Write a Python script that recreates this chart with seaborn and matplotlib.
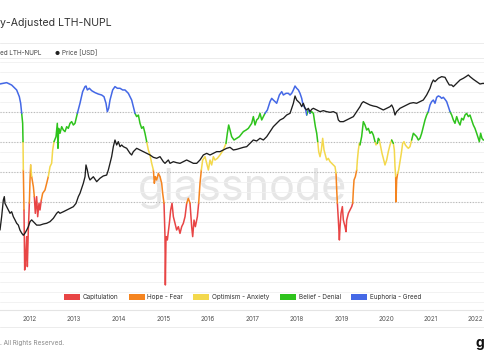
import numpy as np
import pandas as pd
import matplotlib
matplotlib.use('Agg')
import matplotlib.pyplot as plt
from matplotlib.patches import Patch
from matplotlib.lines import Line2D
import seaborn as sns

# NUPL zones
zone_names = ['Capitulation', 'Hope - Fear', 'Optimism - Anxiety', 'Belief - Denial', 'Euphoria - Greed']
zone_colors = ['#e84545', '#f5841f', '#f3d84c', '#2ec31c', '#4468e6']
zone_edges = [-np.inf, 0, 0.25, 0.5, 0.75, np.inf]
year_ticks = list(range(2012, 2023))

# LTH-NUPL (decimal year, value)
nupl_year = [
    2011.333, 2011.483, 2011.595, 2011.707, 2011.767, 2011.797, 2011.820, 2011.842, 2011.850, 2011.857,
    2011.872, 2011.887, 2011.909, 2011.932, 2011.947, 2011.969, 2011.992, 2012.007, 2012.022, 2012.044,
    2012.082, 2012.104, 2012.126, 2012.156, 2012.179, 2012.209, 2012.231, 2012.261, 2012.291, 2012.343,
    2012.381, 2012.418, 2012.456, 2012.493, 2012.516, 2012.546, 2012.591, 2012.620, 2012.635, 2012.650,
    2012.680, 2012.718, 2012.755, 2012.793, 2012.830, 2012.867, 2012.905, 2012.942, 2012.980, 2013.017,
    2013.070, 2013.129, 2013.189, 2013.242, 2013.264, 2013.294, 2013.339, 2013.392, 2013.466, 2013.541,
    2013.616, 2013.668, 2013.713, 2013.743, 2013.773, 2013.803, 2013.863, 2013.915, 2013.968, 2014.028,
    2014.088, 2014.140, 2014.215, 2014.290, 2014.327, 2014.365, 2014.402, 2014.440, 2014.477, 2014.515,
    2014.552, 2014.589, 2014.627, 2014.664, 2014.702, 2014.739, 2014.777, 2014.799, 2014.821, 2014.851,
    2014.889, 2014.926, 2014.964, 2014.986, 2015.016, 2015.038, 2015.046, 2015.061, 2015.091, 2015.136,
    2015.166, 2015.196, 2015.226, 2015.263, 2015.300, 2015.338, 2015.375, 2015.413, 2015.450, 2015.488,
    2015.525, 2015.562, 2015.600, 2015.637, 2015.660, 2015.690, 2015.720, 2015.765, 2015.794, 2015.824,
    2015.854, 2015.884, 2015.937, 2015.974, 2016.012, 2016.049, 2016.086, 2016.124, 2016.161, 2016.214,
    2016.273, 2016.348, 2016.408, 2016.438, 2016.468, 2016.498, 2016.535, 2016.588, 2016.648, 2016.708,
    2016.798, 2016.858, 2016.910, 2016.985, 2017.022, 2017.060, 2017.097, 2017.135, 2017.172, 2017.210,
    2017.247, 2017.284, 2017.337, 2017.397, 2017.434, 2017.471, 2017.509, 2017.546, 2017.606, 2017.659,
    2017.696, 2017.756, 2017.808, 2017.846, 2017.883, 2017.921, 2017.958, 2017.995, 2018.033, 2018.070,
    2018.108, 2018.130, 2018.160, 2018.190, 2018.220, 2018.257, 2018.295, 2018.332, 2018.370, 2018.392,
    2018.415, 2018.445, 2018.467, 2018.490, 2018.519, 2018.549, 2018.579, 2018.609, 2018.639, 2018.669,
    2018.706, 2018.744, 2018.781, 2018.819, 2018.856, 2018.879, 2018.894, 2018.909, 2018.931, 2018.954,
    2018.969, 2018.991, 2019.021, 2019.043, 2019.081, 2019.103, 2019.118, 2019.156, 2019.193, 2019.231,
    2019.253, 2019.268, 2019.283, 2019.313, 2019.343, 2019.358, 2019.380, 2019.403, 2019.417, 2019.454,
    2019.492, 2019.529, 2019.567, 2019.604, 2019.642, 2019.679, 2019.716, 2019.754, 2019.776, 2019.806,
    2019.829, 2019.851, 2019.881, 2019.911, 2019.941, 2019.978, 2020.016, 2020.053, 2020.091, 2020.128,
    2020.165, 2020.188, 2020.203, 2020.218, 2020.225, 2020.240, 2020.263, 2020.285, 2020.315, 2020.345,
    2020.375, 2020.405, 2020.435, 2020.465, 2020.502, 2020.540, 2020.577, 2020.615, 2020.652, 2020.689,
    2020.727, 2020.764, 2020.802, 2020.839, 2020.877, 2020.914, 2020.951, 2020.989, 2021.026, 2021.064,
    2021.101, 2021.139, 2021.176, 2021.213, 2021.251, 2021.288, 2021.326, 2021.363, 2021.401, 2021.438,
    2021.476, 2021.513, 2021.550, 2021.588, 2021.625, 2021.663, 2021.700, 2021.737, 2021.775, 2021.812,
    2021.850, 2021.887, 2021.924, 2021.962, 2021.999, 2022.037, 2022.074, 2022.097, 2022.126, 2022.156,
    2022.186, 2022.224,
]
nupl_value = [
    0.986, 0.997, 0.977, 0.936, 0.880, 0.825, 0.741, 0.658, 0.505, 0.269,
    -0.064, -0.564, -0.453, -0.286, -0.536, -0.231, -0.008, 0.186, 0.311, 0.214,
    0.130, 0.047, -0.092, 0.047, -0.120, -0.008, -0.064, 0.019, 0.075, 0.102,
    0.158, 0.214, 0.297, 0.325, 0.436, 0.505, 0.547, 0.658, 0.450, 0.616,
    0.575, 0.630, 0.602, 0.589, 0.630, 0.616, 0.658, 0.672, 0.644, 0.658,
    0.741, 0.825, 0.922, 0.964, 0.969, 0.936, 0.950, 0.930, 0.914, 0.902,
    0.894, 0.880, 0.825, 0.755, 0.783, 0.852, 0.936, 0.964, 0.950, 0.950,
    0.936, 0.936, 0.908, 0.852, 0.797, 0.741, 0.714, 0.727, 0.658, 0.616,
    0.630, 0.575, 0.505, 0.436, 0.394, 0.325, 0.269, 0.158, 0.214, 0.186,
    0.241, 0.214, 0.158, 0.075, -0.008, -0.286, -0.689, -0.286, -0.314, -0.175,
    -0.064, -0.008, -0.120, -0.175, -0.231, -0.203, -0.259, -0.203, -0.175, -0.120,
    -0.008, 0.033, -0.008, -0.203, -0.286, -0.148, -0.203, -0.120, -0.008, 0.158,
    0.269, 0.352, 0.380, 0.325, 0.269, 0.352, 0.311, 0.380, 0.352, 0.366,
    0.394, 0.436, 0.491, 0.575, 0.644, 0.602, 0.547, 0.519, 0.533, 0.547,
    0.589, 0.602, 0.616, 0.658, 0.714, 0.644, 0.686, 0.700, 0.741, 0.686,
    0.714, 0.741, 0.769, 0.839, 0.866, 0.852, 0.839, 0.825, 0.894, 0.922,
    0.894, 0.908, 0.908, 0.894, 0.908, 0.936, 0.969, 0.950, 0.936, 0.908,
    0.866, 0.825, 0.797, 0.783, 0.727, 0.769, 0.741, 0.755, 0.741, 0.686,
    0.630, 0.575, 0.505, 0.422, 0.380, 0.436, 0.533, 0.436, 0.394, 0.352,
    0.366, 0.339, 0.325, 0.311, 0.297, 0.241, 0.102, -0.008, -0.148, -0.314,
    -0.203, -0.092, -0.036, -0.148, -0.203, -0.245, -0.148, -0.092, -0.064, -0.036,
    -0.008, 0.102, 0.186, 0.214, 0.269, 0.352, 0.436, 0.491, 0.478, 0.547,
    0.672, 0.644, 0.602, 0.616, 0.575, 0.589, 0.561, 0.505, 0.478, 0.491,
    0.533, 0.519, 0.464, 0.408, 0.366, 0.311, 0.352, 0.422, 0.478, 0.519,
    0.491, 0.436, 0.297, 0.214, 0.003, 0.186, 0.241, 0.269, 0.339, 0.408,
    0.491, 0.505, 0.478, 0.464, 0.450, 0.464, 0.519, 0.575, 0.561, 0.547,
    0.519, 0.533, 0.575, 0.630, 0.686, 0.727, 0.755, 0.811, 0.839, 0.852,
    0.825, 0.875, 0.886, 0.880, 0.866, 0.875, 0.858, 0.839, 0.797, 0.755,
    0.727, 0.686, 0.658, 0.714, 0.672, 0.644, 0.700, 0.686, 0.727, 0.741,
    0.714, 0.727, 0.686, 0.644, 0.616, 0.575, 0.533, 0.505, 0.575, 0.533,
    0.519, 0.519,
]

# BTC price in USD (decimal year, price)
price_year = [
    2011.333, 2011.370, 2011.408, 2011.430, 2011.445, 2011.483, 2011.520, 2011.558, 2011.595, 2011.632,
    2011.670, 2011.707, 2011.745, 2011.782, 2011.820, 2011.857, 2011.894, 2011.932, 2011.969, 2012.007,
    2012.044, 2012.082, 2012.119, 2012.156, 2012.231, 2012.306, 2012.381, 2012.456, 2012.531, 2012.606,
    2012.643, 2012.680, 2012.755, 2012.830, 2012.905, 2012.980, 2013.040, 2013.092, 2013.129, 2013.167,
    2013.204, 2013.242, 2013.264, 2013.294, 2013.324, 2013.354, 2013.429, 2013.504, 2013.578, 2013.653,
    2013.728, 2013.766, 2013.803, 2013.840, 2013.878, 2013.915, 2013.953, 2013.990, 2014.028, 2014.065,
    2014.103, 2014.178, 2014.253, 2014.290, 2014.327, 2014.402, 2014.477, 2014.552, 2014.627, 2014.702,
    2014.777, 2014.851, 2014.926, 2015.001, 2015.038, 2015.076, 2015.113, 2015.151, 2015.226, 2015.300,
    2015.375, 2015.450, 2015.525, 2015.600, 2015.675, 2015.750, 2015.824, 2015.899, 2015.974, 2016.049,
    2016.124, 2016.199, 2016.273, 2016.348, 2016.423, 2016.498, 2016.573, 2016.648, 2016.723, 2016.798,
    2016.873, 2016.948, 2017.022, 2017.097, 2017.172, 2017.247, 2017.322, 2017.397, 2017.471, 2017.546,
    2017.621, 2017.696, 2017.771, 2017.846, 2017.883, 2017.921, 2017.958, 2017.995, 2018.033, 2018.070,
    2018.108, 2018.145, 2018.183, 2018.220, 2018.257, 2018.295, 2018.332, 2018.370, 2018.445, 2018.519,
    2018.594, 2018.669, 2018.744, 2018.819, 2018.894, 2018.931, 2018.969, 2019.043, 2019.118, 2019.193,
    2019.268, 2019.343, 2019.417, 2019.455, 2019.492, 2019.567, 2019.642, 2019.716, 2019.791, 2019.866,
    2019.941, 2020.016, 2020.091, 2020.128, 2020.165, 2020.203, 2020.240, 2020.315, 2020.390, 2020.465,
    2020.540, 2020.615, 2020.689, 2020.764, 2020.839, 2020.914, 2020.989, 2021.026, 2021.064, 2021.101,
    2021.176, 2021.251, 2021.326, 2021.378, 2021.423, 2021.476, 2021.513, 2021.550, 2021.588, 2021.663,
    2021.737, 2021.797, 2021.850, 2021.887, 2021.962, 2022.037, 2022.111, 2022.186, 2022.224,
]
price_usd = [
    2.83, 6.8, 20.4, 25.4, 16.3, 13.1, 10.5, 8.5, 9.4, 6.8,
    5.5, 4.4, 3.9, 2.8, 2.3, 2.0, 2.3, 2.8, 3.5, 4.9,
    5.5, 4.9, 4.4, 3.9, 3.9, 4.2, 4.4, 4.9, 6.1, 8.5,
    9.4, 8.5, 9.4, 10.5, 11.8, 13.1, 16.3, 25.4, 31.6, 43.8,
    61, 94, 204, 147, 94, 76, 94, 68, 85, 99,
    105, 147, 227, 352, 680, 1054, 759, 944, 680, 759,
    680, 610, 438, 393, 490, 610, 546, 490, 438, 393,
    337, 316, 352, 253, 227, 253, 283, 227, 253, 237,
    227, 253, 283, 253, 227, 227, 283, 393, 438, 393,
    438, 490, 490, 546, 610, 650, 546, 570, 610, 650,
    680, 847, 1054, 987, 1178, 1054, 1313, 1824, 2535, 3155,
    3927, 4385, 5458, 6095, 8472, 11780, 19050, 14650, 13120, 11780,
    9440, 11780, 8472, 7590, 8472, 6800, 7930, 8472, 7590, 6800,
    7270, 6800, 6500, 6800, 6095, 3927, 3525, 3525, 3927, 4385,
    4900, 6800, 9440, 11780, 13120, 11780, 10540, 9860, 9440, 8472,
    7590, 8472, 9440, 10540, 8472, 5458, 6800, 8472, 9440, 10540,
    11780, 12300, 11780, 13120, 14650, 20370, 31550, 43850, 54580, 48950,
    60950, 68070, 65050, 48950, 39270, 39270, 35220, 39270, 43850, 54580,
    60950, 68070, 75900, 68070, 57020, 48950, 41980, 43850, 41980,
]

sns.set_theme(style='white')
plt.rcParams['font.family'] = ['Inter', 'DejaVu Sans']

# split the NUPL line into runs that share a zone, so each run gets its colour
nupl = np.array(nupl_value)
mid = (nupl[:-1] + nupl[1:]) / 2
seg_zone = np.asarray(pd.cut(mid, zone_edges, labels=zone_names, right=False).astype(str))
rows = []
run = 0
for i, z in enumerate(seg_zone):
    if i > 0 and z != seg_zone[i - 1]:
        run += 1
    rows.append((nupl_year[i], nupl[i], z, run))
    rows.append((nupl_year[i + 1], nupl[i + 1], z, run))
segs = pd.DataFrame(rows, columns=['year', 'nupl', 'zone', 'run']).drop_duplicates(['year', 'run'])

fig = plt.figure(figsize=(4.85, 3.6), dpi=100)
ax = fig.add_axes([0, 50 / 360, 1, 248 / 360])

ax.text(0.5, 0.49, 'glassnode', transform=ax.transAxes, ha='center', va='center',
        fontsize=31, color='#e6e6e6', zorder=0.5)
ax.set_yticks(np.arange(-10, 15) / 12)
ax.yaxis.grid(True, color='#f0f0f0', lw=0.6)
for t in [0, 0.25, 0.5, 0.75]:
    ax.axhline(t, color='#b8b8b8', ls=(0, (1, 1.5)), lw=0.8, zorder=1)

sns.lineplot(data=segs, x='year', y='nupl', hue='zone', units='run', estimator=None,
             palette=dict(zip(zone_names, zone_colors)), hue_order=zone_names,
             lw=1.1, legend=False, ax=ax)
ax.set_xlim(2011.333, 2022.224)
ax.set_ylim(-0.8975, 1.169)
ax.set_xticks(year_ticks)
ax.set_xticklabels([str(y) for y in year_ticks])
ax.tick_params(axis='x', length=0, pad=4, labelsize=4.6, labelcolor='#555555')
ax.tick_params(axis='y', left=False, labelleft=False)
ax.set_xlabel('')
ax.set_ylabel('')
for s in ['top', 'left', 'right']:
    ax.spines[s].set_visible(False)
ax.spines['bottom'].set_color('#e4e4e4')
ax.spines['bottom'].set_linewidth(0.8)

# price on a log twin axis
ax2 = ax.twinx()
sns.lineplot(x=price_year, y=price_usd, estimator=None, color='#1e1e1e', lw=0.95, ax=ax2)
ax2.set_yscale('log')
ax2.set_ylim(10 ** -1.834, 10 ** 5.251)
ax2.set_xlim(2011.333, 2022.224)
ax2.grid(False)
ax2.tick_params(axis='y', right=False, labelright=False, which='both')
ax2.set_ylabel('')
for s in ax2.spines.values():
    s.set_visible(False)

# header and footer
fig.text(0, 1 - 23 / 360, 'y-Adjusted LTH-NUPL', fontsize=7.6, color='#333333', va='center')
fig.text(0.5 / 485, 1 - 53 / 360, 'ed LTH-NUPL', fontsize=4.6, color='#444444', va='center')
fig.text(55 / 485, 1 - 53 / 360, '●', fontsize=4, color='#222222', va='center')
fig.text(62 / 485, 1 - 53 / 360, 'Price [USD]', fontsize=4.6, color='#444444', va='center')
for yy in [43, 58, 327]:
    fig.add_artist(Line2D([0, 1], [1 - yy / 360] * 2, color='#ececec', lw=0.7))

handles = [Patch(facecolor=c, edgecolor='none', label=n) for n, c in zip(zone_names, zone_colors)]
fig.legend(handles=handles, loc='center', bbox_to_anchor=(0.5, 1 - 297 / 360), ncol=5,
           frameon=False, fontsize=4.6, handlelength=2.5, handleheight=1.1,
           handletextpad=0.45, columnspacing=1.6, labelcolor='#333333')

fig.text(0, 1 - 343 / 360, '. All Rights Reserved.', fontsize=4.6, color='#888888', va='center')
fig.text(476 / 485, 1 - 343 / 360, 'g', fontsize=10, color='#111111', va='center', weight='bold')

fig.savefig('out.png', dpi=100)
